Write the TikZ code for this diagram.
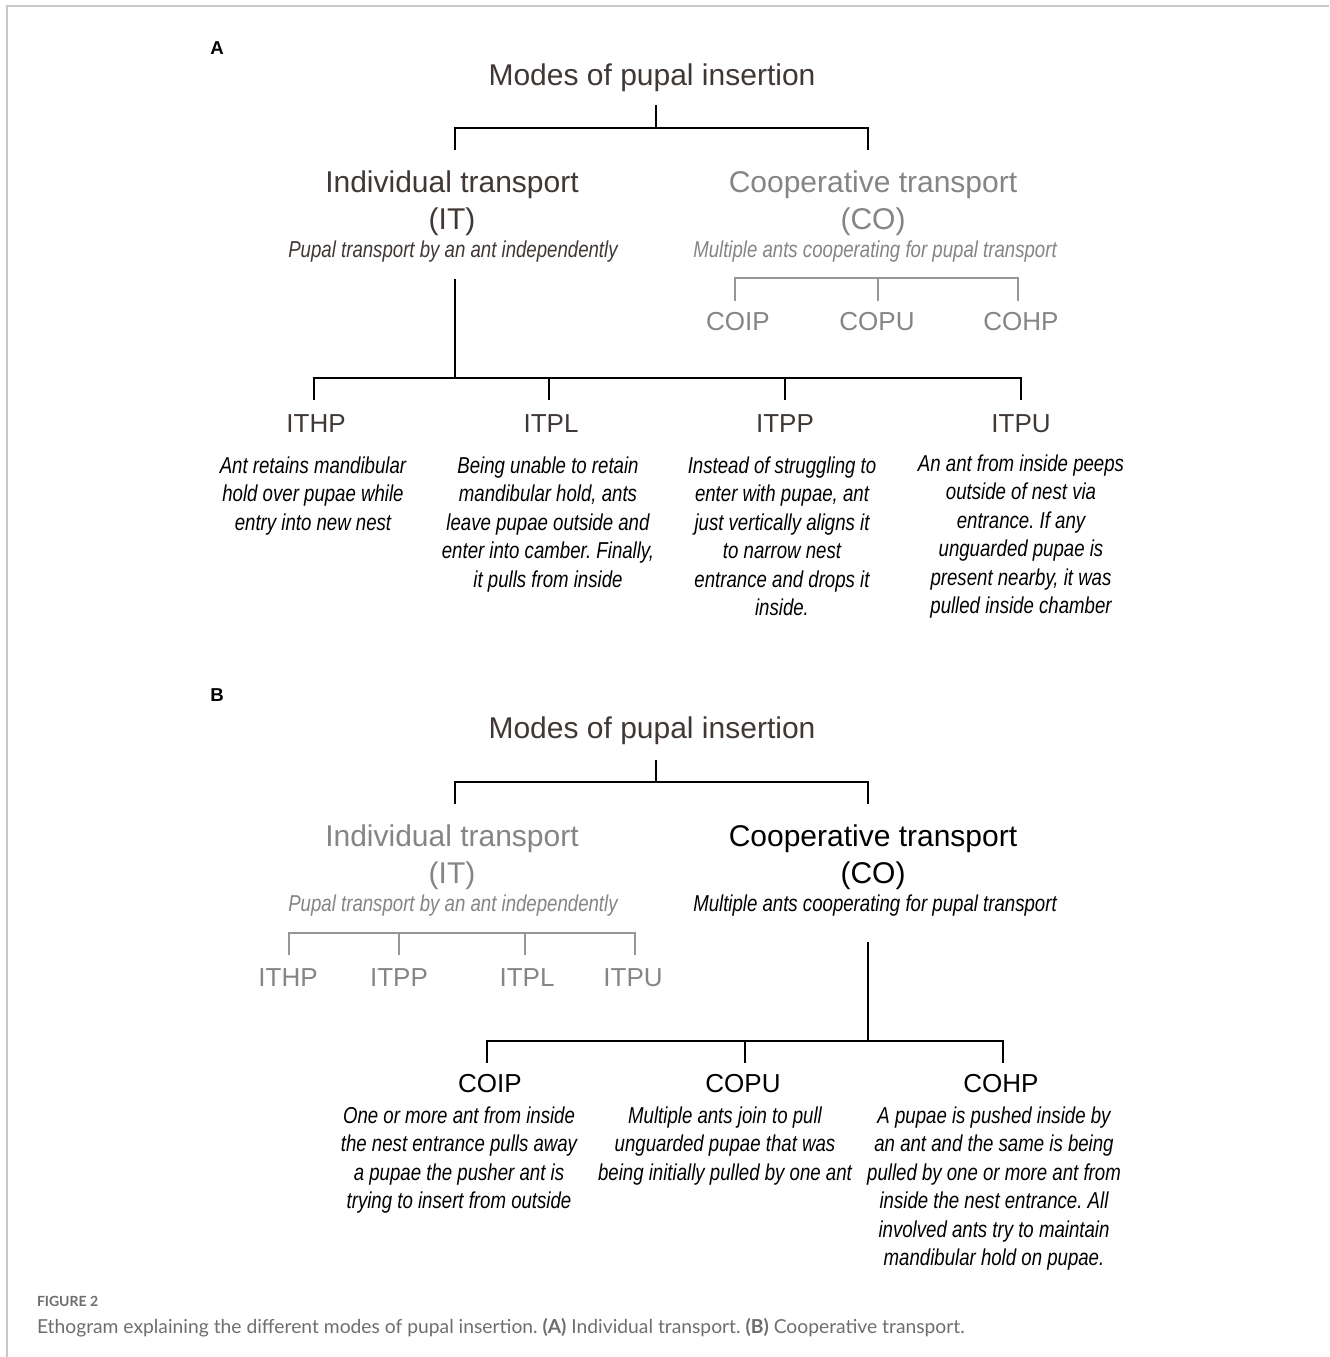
\documentclass[tikz,border=0pt]{standalone}
\usepackage{fontspec}
\setmainfont{Liberation Sans}
\newfontfamily\narrowfont[FakeStretch=0.81]{Liberation Sans}
\newfontfamily\capfont{Lato}
\definecolor{textdark}{RGB}{64,56,53}
\definecolor{textgray}{RGB}{133,133,133}
\definecolor{linegray}{RGB}{150,150,150}
\definecolor{capgray}{RGB}{110,110,110}
\definecolor{bordergray}{RGB}{200,200,200}
\frenchspacing
\begin{document}
\begin{tikzpicture}[x=0.75pt,y=-0.75pt,
  every node/.style={inner sep=0pt,outer sep=0pt,anchor=base},
  head/.style={font=\fontsize{22.5}{27}\selectfont},
  code/.style={font=\fontsize{19.5}{23}\selectfont},
  desc/.style={font=\narrowfont\itshape\fontsize{17.25}{21.375}\selectfont,align=center},
  panel/.style={font=\bfseries\fontsize{14}{16}\selectfont},
  dark/.style={text=textdark},
  faint/.style={text=textgray},
  blk/.style={draw=black,line width=1.5pt},
  gln/.style={draw=linegray,line width=1.5pt}]
\useasboundingbox (0,0) rectangle (1329,1357);
\fill[white] (0,0) rectangle (1329,1357);
\draw[bordergray,line width=1.5pt] (7,1357) -- (7,6) -- (1329,6);

% ================= Panel A =================
\node[panel] (labA) at (217,54.5) {A};
\node[head,dark] (titleA) at (652,85) {Modes of pupal insertion};
\coordinate (rootA) at (656,105);
\coordinate (jA) at (656,128);
\coordinate (itTopA) at (455,150);
\coordinate (coTopA) at (868,150);
\draw[blk] (rootA) -- (jA);
\draw[blk] (itTopA) |- (jA) -| (coTopA);

\node[head,dark] (itA) at (452,192) {Individual transport};
\node[head,dark] (itabA) at (452,229) {(IT)};
\node[desc,dark] (itsubA) at (453,257) {Pupal transport by an ant independently};
\node[head,faint] (coA) at (873,192) {Cooperative transport};
\node[head,faint] (coabA) at (873,229) {(CO)};
\node[desc,faint] (cosubA) at (875,257) {Multiple ants cooperating for pupal transport};

% gray sub-tree for CO
\coordinate (gjA) at (878,278);
\coordinate (g1A) at (735,301);
\coordinate (g2A) at (878,301);
\coordinate (g3A) at (1018,301);
\draw[gln] (g1A) |- (gjA) -| (g3A);
\draw[gln] (gjA) -- (g2A);
\node[code,faint] (coipA) at (738,330.5) {COIP};
\node[code,faint] (copuA) at (877,330.5) {COPU};
\node[code,faint] (cohpA) at (1021,330.5) {COHP};

% black sub-tree for IT
\coordinate (bsA) at (455,279);
\coordinate (bjA) at (455,378);
\coordinate (b1A) at (314,400);
\coordinate (b2A) at (549,400);
\coordinate (b3A) at (785,400);
\coordinate (b4A) at (1021,400);
\draw[blk] (bsA) -- (bjA);
\draw[blk] (b1A) |- (bjA) -| (b4A);
\draw[blk] (b2A) -- (b2A |- bjA);
\draw[blk] (b3A) -- (b3A |- bjA);

\node[code,dark] (ithpA) at (316,432) {ITHP};
\node[code,dark] (itplA) at (551,432) {ITPL};
\node[code,dark] (itppA) at (785,432) {ITPP};
\node[code,dark] (itpuA) at (1021,432) {ITPU};

% (anchor base = baseline of the last line)
\node[desc] (dithp) at (313,530) {Ant retains mandibular\\hold over pupae while\\entry into new nest};
\node[desc] (ditpl) at (548,587) {Being unable to retain\\mandibular hold, ants\\leave pupae outside and\\enter into camber. Finally,\\it pulls from inside};
\node[desc] (ditpp) at (782,615.5) {Instead of struggling to\\enter with pupae, ant\\just vertically aligns it\\to narrow nest\\entrance and drops it\\inside.};
\node[desc] (ditpu) at (1021,613.5) {An ant from inside peeps\\outside of nest via\\entrance. If any\\unguarded pupae is\\present nearby, it was\\pulled inside chamber};

% ================= Panel B =================
\node[panel] (labB) at (217,701.5) {B};
\node[head,dark] (titleB) at (652,738) {Modes of pupal insertion};
\coordinate (rootB) at (656,760);
\coordinate (jB) at (656,782);
\coordinate (itTopB) at (455,804);
\coordinate (coTopB) at (868,804);
\draw[blk] (rootB) -- (jB);
\draw[blk] (itTopB) |- (jB) -| (coTopB);

\node[head,faint] (itB) at (452,846) {Individual transport};
\node[head,faint] (itabB) at (452,883) {(IT)};
\node[desc,faint] (itsubB) at (453,911) {Pupal transport by an ant independently};
\node[head] (coB) at (873,846) {Cooperative transport};
\node[head] (coabB) at (873,883) {(CO)};
\node[desc] (cosubB) at (875,911) {Multiple ants cooperating for pupal transport};

% gray sub-tree for IT
\coordinate (gjB) at (289,933);
\coordinate (g1B) at (289,955);
\coordinate (g2B) at (399,955);
\coordinate (g3B) at (525,955);
\coordinate (g4B) at (635,955);
\draw[gln] (g1B) -- (gjB) -| (g4B);
\draw[gln] (g2B) -- (g2B |- gjB);
\draw[gln] (g3B) -- (g3B |- gjB);
\node[code,faint] (ithpB) at (288,986.5) {ITHP};
\node[code,faint] (itppB) at (399,986.5) {ITPP};
\node[code,faint] (itplB) at (527,986.5) {ITPL};
\node[code,faint] (itpuB) at (633,986.5) {ITPU};

% black sub-tree for CO
\coordinate (bsB) at (868,942);
\coordinate (bjB) at (868,1041);
\coordinate (b1B) at (487,1063);
\coordinate (b2B) at (745,1063);
\coordinate (b3B) at (1003,1063);
\draw[blk] (bsB) -- (bjB);
\draw[blk] (b1B) |- (bjB) -| (b3B);
\draw[blk] (b2B) -- (b2B |- bjB);

\node[code] (coipB) at (490,1092.5) {COIP};
\node[code] (copuB) at (743,1092.5) {COPU};
\node[code] (cohpB) at (1001,1092.5) {COHP};

\node[desc] (dcoip) at (459,1208.5) {One or more ant from inside\\the nest entrance pulls away\\a pupae the pusher ant is\\trying to insert from outside};
\node[desc] (dcopu) at (725,1180) {Multiple ants join to pull\\unguarded pupae that was\\being initially pulled by one ant};
\node[desc] (dcohp) at (994,1265.5) {A pupae is pushed inside by\\an ant and the same is being\\pulled by one or more ant from\\inside the nest entrance. All\\involved ants try to maintain\\mandibular hold on pupae.};

% ================= Caption =================
\node[anchor=base west,text=capgray,font=\capfont\bfseries\fontsize{10.5}{12}\selectfont] (figlab) at (37,1306) {FIGURE 2};
\node[anchor=base west,text=capgray,font=\capfont\fontsize{14.45}{17}\selectfont] (caption) at (37,1333) {Ethogram explaining the different modes of pupal insertion. \textbf{(A)} Individual transport. \textbf{(B)} Cooperative transport.};
\end{tikzpicture}
\end{document}
